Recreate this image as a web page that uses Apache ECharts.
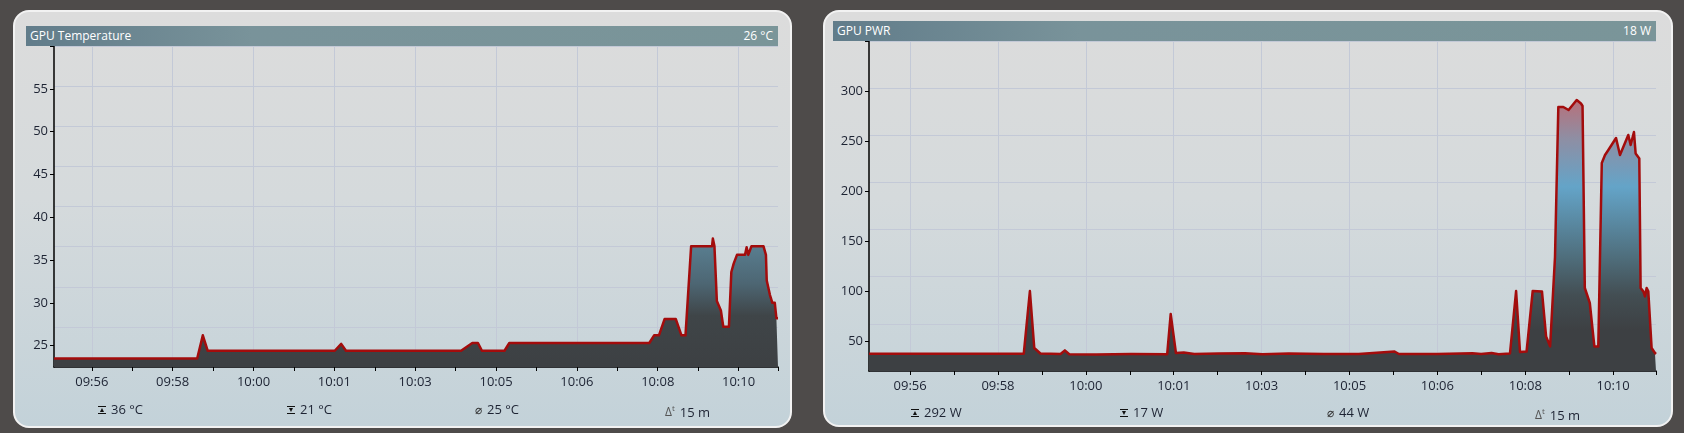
<!DOCTYPE html>
<html>
<head>
<meta charset="utf-8">
<script src="https://cdn.jsdelivr.net/npm/echarts@6.0.0/dist/echarts.min.js"></script>
<style>
html, body { margin: 0; padding: 0; width: 1684px; height: 433px; overflow: hidden; background: #4e4b4a; font-family: "Open Sans", "Noto Sans", sans-serif; }
.panel { position: absolute; box-sizing: border-box; border: 2px solid #f2f2f2; border-radius: 16px; background: linear-gradient(180deg, #dcdcdc 0%, #d5dadc 45%, #c3d2d9 100%); }
.chart { position: absolute; left: 0; top: 0; width: 100%; height: 100%; }
.bar { position: absolute; height: 20px; z-index: 2; background: linear-gradient(90deg, #617c8a 0%, #79939a 30%, #7a9599 100%); color: #fff; font-size: 12px; line-height: 20px; }
.bar .t { position: absolute; left: 4px; }
.bar .v { position: absolute; right: 5px; }
.stat { position: absolute; z-index: 2; font-size: 13px; color: #1d2333; white-space: nowrap; line-height: 18px; }
.ico { display: inline-block; font-size: 7px; line-height: 6px; width: 8px; text-align: center; vertical-align: 2px; margin-right: 5px; color: #111; border-top: 1.5px solid #111; border-bottom: 1.5px solid #111; }
.avg { font-size: 12px; color: #333; margin-right: 5px; }
.dt { font-size: 12px; color: #555; margin-right: 5px; position: relative; top: -1px; }
.dt sup { font-size: 8px; }
</style>
</head>
<body>

<div class="panel" id="p1" style="left:13px; top:10px; width:779px; height:418px;">
  <div class="chart" id="c1"></div>
  <div class="bar" style="left:11px; top:14px; width:752px;"><span class="t">GPU Temperature</span><span class="v">26 °C</span></div>
  <div class="stat" style="left:83px; top:388px;"><span class="ico">▲</span>36 °C</div>
  <div class="stat" style="left:272px; top:388px;"><span class="ico">▼</span>21 °C</div>
  <div class="stat" style="left:460px; top:388px;"><span class="avg">⌀</span>25 °C</div>
  <div class="stat" style="left:650px; top:388px;"><span class="dt">Δ<sup>t</sup></span>15 m</div>
</div>

<div class="panel" id="p2" style="left:823px; top:10px; width:850px; height:417px;">
  <div class="chart" id="c2"></div>
  <div class="bar" style="left:8px; top:9px; width:823px;"><span class="t">GPU PWR</span><span class="v">18 W</span></div>
  <div class="stat" style="left:86px; top:391px;"><span class="ico">▲</span>292 W</div>
  <div class="stat" style="left:295px; top:391px;"><span class="ico">▼</span>17 W</div>
  <div class="stat" style="left:502px; top:391px;"><span class="avg">⌀</span>44 W</div>
  <div class="stat" style="left:710px; top:391px;"><span class="dt">Δ<sup>t</sup></span>15 m</div>
</div>

<script>
// time axis (seconds since start of the 15 min window)
const timeLabels = ['09:56', '09:58', '10:00', '10:01', '10:03', '10:05', '10:06', '10:08', '10:10'];
const labelSec = [47, 147.5, 248, 348.5, 449, 549.5, 650, 750.5, 851];
const tickSec = [47, 97.25, 147.5, 197.75, 248, 298.25, 348.5, 398.75, 449, 499.25, 549.5, 599.75, 650, 700.25, 750.5, 800.75, 851, 900];

// GPU Temperature (°C)
const tempT = [0, 178, 185, 191, 349, 357, 363, 506, 520, 527, 532, 560, 566, 740, 746, 752, 759, 773, 780, 785, 792, 818, 819, 821, 824, 829, 832, 839, 842, 845, 849, 859, 861, 863, 867, 882, 885, 886, 890, 893, 896, 898, 900];
const tempV = [23.5, 23.5, 26.2, 24.4, 24.4, 25.2, 24.4, 24.4, 25.3, 25.3, 24.4, 24.4, 25.3, 25.3, 26.2, 26.2, 28.1, 28.1, 26.2, 26.2, 36.6, 36.6, 37.5, 36.6, 30.2, 29.1, 27.2, 27.2, 33.6, 34.6, 35.6, 35.6, 36.5, 35.6, 36.6, 36.6, 35.6, 32.6, 30.9, 30, 30, 28.2, 28.2];
const tempYLabels = [25, 30, 35, 40, 45, 50, 55];
const tempYTicks = [25, 30, 35, 40, 45, 50, 55, 60];

// GPU PWR (W)
const pwrT = [0, 177, 184, 189, 196, 219, 224, 229, 260, 300, 341, 345, 351, 360, 372, 400, 430, 450, 480, 520, 560, 601, 606, 650, 690, 700, 712, 720, 733, 740, 744.5, 752, 759, 769.6, 774.3, 778.9, 780.7, 784.5, 788.3, 794, 800, 809.3, 814.2, 816, 818.6, 824.3, 829.5, 834, 838, 841.7, 845.5, 854.3, 858.8, 868.3, 871, 874.8, 876.7, 878.5, 880.9, 882.4, 885.5, 887.4, 889.3, 891.2, 895, 898.8, 900];
const pwrV = [37.3, 37.3, 100, 43, 37.5, 37, 40.6, 36.8, 36.6, 37, 36.8, 77, 38, 38.5, 37, 37.5, 37.8, 36.8, 37.4, 36.9, 37, 39.5, 37, 37, 37.8, 37, 38, 36.8, 37.5, 100, 39, 39.5, 100, 99.6, 54.6, 44.6, 44.6, 134, 284, 284, 281, 291, 287.5, 285, 103, 88, 44.6, 44.6, 228, 236, 241, 253, 236, 256, 246, 259, 237.6, 236, 232.6, 103, 99.6, 94.6, 103, 99.6, 43, 38, 37];
const pwrYLabels = [50, 100, 150, 200, 250, 300];
const pwrYTicks = [50, 100, 150, 200, 250, 300, 350];

const FONT = '"Open Sans", "Noto Sans", sans-serif';
const TXT = '#1d2333';
const GRID = '#c3c9d7';

function zip(ts, vs) {
    return ts.map((t, i) => [t, vs[i]]);
}

function makeChart(el, cfg) {
    const chart = echarts.init(el, null, { renderer: 'canvas' });
    chart.setOption({
        animation: false,
        grid: cfg.grid,
        xAxis: [
            {
                type: 'value', min: 0, max: 900,
                axisLine: { show: true, lineStyle: { color: '#000', width: 1.5 } },
                axisTick: { show: true, customValues: tickSec, length: 4, lineStyle: { color: '#000', width: 1 } },
                axisLabel: {
                    customValues: labelSec, margin: 9, fontSize: 13, color: TXT, fontFamily: FONT,
                    formatter: v => timeLabels[labelSec.indexOf(v)] || ''
                },
                splitLine: { show: false }
            },
            {
                // vertical grid lines at the time labels
                type: 'value', min: 0, max: 900, position: 'bottom',
                axisLine: { show: false },
                axisTick: { show: false, customValues: labelSec },
                axisLabel: { show: false },
                splitLine: { show: true, lineStyle: { color: GRID, width: 1 } }
            }
        ],
        yAxis: [
            {
                type: 'value', min: cfg.yMin, max: cfg.yMax,
                axisLine: { show: true, lineStyle: { color: '#000', width: 1.5 } },
                axisTick: { show: true, customValues: cfg.yTicks, length: 4, lineStyle: { color: '#000', width: 1 } },
                axisLabel: { customValues: cfg.yLabels, margin: 6, fontSize: 13, color: TXT, fontFamily: FONT },
                splitLine: { show: false }
            },
            {
                // fixed background grid rows
                type: 'value', min: 0, max: cfg.rows, interval: 1, position: 'right',
                axisLine: { show: false }, axisTick: { show: false }, axisLabel: { show: false },
                splitLine: { show: true, lineStyle: { color: GRID, width: 1 } }
            }
        ],
        series: [{
            type: 'line',
            xAxisIndex: 0, yAxisIndex: 0,
            data: cfg.data,
            symbol: 'none',
            clip: true,
            lineStyle: { color: '#a30c0c', width: 2.5, join: 'round' },
            areaStyle: { opacity: 1, color: new echarts.graphic.LinearGradient(0, 0, 0, 1, cfg.stops) }
        }]
    });
    return chart;
}

makeChart(document.getElementById('c1'), {
    grid: { left: 39, top: 34, width: 724, height: 321 },
    yMin: 22.5, yMax: 60, yLabels: tempYLabels, yTicks: tempYTicks, rows: 8,
    data: zip(tempT, tempV),
    stops: [
        { offset: 0, color: '#5b8295' },
        { offset: 0.35, color: '#4d6673' },
        { offset: 0.6, color: '#3f4548' },
        { offset: 1, color: '#3d4043' }
    ]
});

makeChart(document.getElementById('c2'), {
    grid: { left: 44, top: 29, width: 787, height: 330 },
    yMin: 20, yMax: 350, yLabels: pwrYLabels, yTicks: pwrYTicks, rows: 7,
    data: zip(pwrT, pwrV),
    stops: [
        { offset: 0, color: '#b8707a' },
        { offset: 0.14, color: '#8f8ea3' },
        { offset: 0.32, color: '#64a4c8' },
        { offset: 0.58, color: '#4f6e7c' },
        { offset: 0.72, color: '#434e53' },
        { offset: 0.85, color: '#3d4043' },
        { offset: 1, color: '#3d4043' }
    ]
});
</script>
</body>
</html>
